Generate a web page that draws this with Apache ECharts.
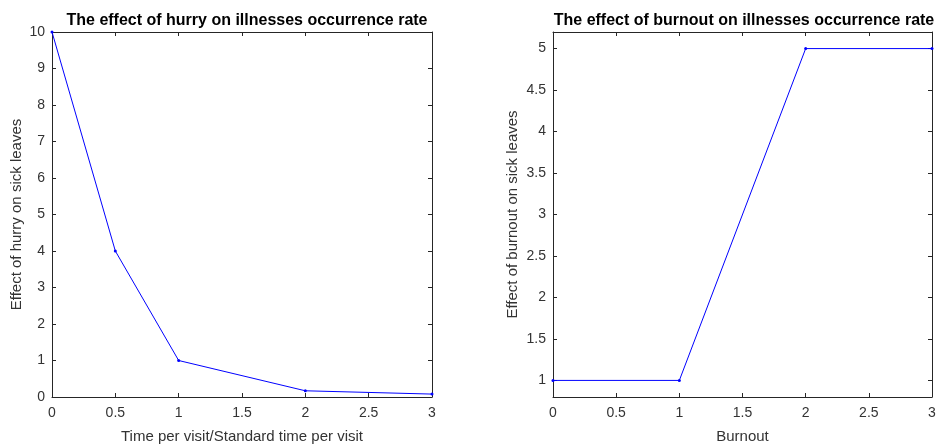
<!DOCTYPE html>
<html><head><meta charset="utf-8">
<script src="https://cdn.jsdelivr.net/npm/echarts@6/dist/echarts.min.js"></script>
<style>html,body{margin:0;padding:0;background:#fff}#c{width:936px;height:445px}</style>
</head><body><div id="c"></div>
<script>
const hurryX = [0, 0.5, 1, 2, 3];
const hurryY = [10, 4, 1, 0.17, 0.08];
const burnoutX = [0, 1, 2, 3];
const burnoutY = [1, 1, 5, 5];
const xTicks = [0, 0.5, 1, 1.5, 2, 2.5, 3];
const leftYTicks = [0, 1, 2, 3, 4, 5, 6, 7, 8, 9, 10];
const rightYTicks = [1, 1.5, 2, 2.5, 3, 3.5, 4, 4.5, 5];
const titles = ['The effect of hurry on illnesses occurrence rate', 'The effect of burnout on illnesses occurrence rate'];
const xNames = ['Time per visit/Standard time per visit', 'Burnout'];
const yNames = ['Effect of hurry on sick leaves', 'Effect of burnout on sick leaves'];

const font = 'Liberation Sans, Arial, sans-serif';
const axCol = '#262626';
const txtCol = '#333333';
const lineStyle = {color: axCol, width: 1};
const tick = (vals) => ({show: true, inside: true, length: 4, lineStyle: lineStyle, customValues: vals});

function mkX(grid, name, labeled) {
  return {
    type: 'value', gridIndex: grid, min: 0, max: 3,
    position: labeled ? 'bottom' : 'top',
    name: labeled ? name : '', nameLocation: 'middle', nameGap: 32,
    nameTextStyle: {fontFamily: font, fontSize: 15, color: txtCol},
    axisLine: {show: true, onZero: false, lineStyle: lineStyle},
    axisTick: tick(xTicks),
    axisLabel: labeled ? {show: true, customValues: xTicks, fontFamily: font, fontSize: 14, color: txtCol, margin: 9} : {show: false},
    splitLine: {show: false}
  };
}
function mkY(grid, name, labeled, min, max, ticks, gap) {
  return {
    type: 'value', gridIndex: grid, min: min, max: max,
    position: labeled ? 'left' : 'right',
    name: labeled ? name : '', nameLocation: 'middle', nameGap: gap, nameRotate: 90,
    nameTextStyle: {fontFamily: font, fontSize: 15, color: txtCol},
    axisLine: {show: true, onZero: false, lineStyle: lineStyle},
    axisTick: tick(ticks),
    axisLabel: labeled ? {show: true, customValues: ticks, fontFamily: font, fontSize: 14, color: txtCol, margin: 7} : {show: false},
    splitLine: {show: false}
  };
}

const option = {
  animation: false,
  backgroundColor: '#fff',
  title: [
    {text: titles[0], left: 242, top: 8, textAlign: 'center', textStyle: {fontFamily: font, fontSize: 16, fontWeight: 'bold', color: '#000'}},
    {text: titles[1], left: 739, top: 8, textAlign: 'center', textStyle: {fontFamily: font, fontSize: 16, fontWeight: 'bold', color: '#000'}}
  ],
  grid: [
    {left: 52, right: 504, top: 32, bottom: 48, containLabel: false, outerBoundsMode: 'none'},
    {left: 553, right: 4, top: 32, bottom: 48, containLabel: false, outerBoundsMode: 'none'}
  ],
  xAxis: [mkX(0, xNames[0], true), mkX(0, '', false), mkX(1, xNames[1], true), mkX(1, '', false)],
  yAxis: [mkY(0, yNames[0], true, 0, 10, leftYTicks, 28), mkY(0, '', false, 0, 10, leftYTicks, 0),
          mkY(1, yNames[1], true, 0.8, 5.2, rightYTicks, 33), mkY(1, '', false, 0.8, 5.2, rightYTicks, 0)],
  series: [
    {type: 'line', xAxisIndex: 0, yAxisIndex: 0, data: hurryX.map((x, i) => [x, hurryY[i]]),
     symbol: 'circle', symbolSize: 3, showSymbol: true, lineStyle: {color: '#0000ff', width: 1}, itemStyle: {color: '#0000ff'}},
    {type: 'line', xAxisIndex: 2, yAxisIndex: 2, data: burnoutX.map((x, i) => [x, burnoutY[i]]),
     symbol: 'circle', symbolSize: 3, showSymbol: true, lineStyle: {color: '#0000ff', width: 1}, itemStyle: {color: '#0000ff'}}
  ]
};
echarts.init(document.getElementById('c')).setOption(option);
</script></body></html>
